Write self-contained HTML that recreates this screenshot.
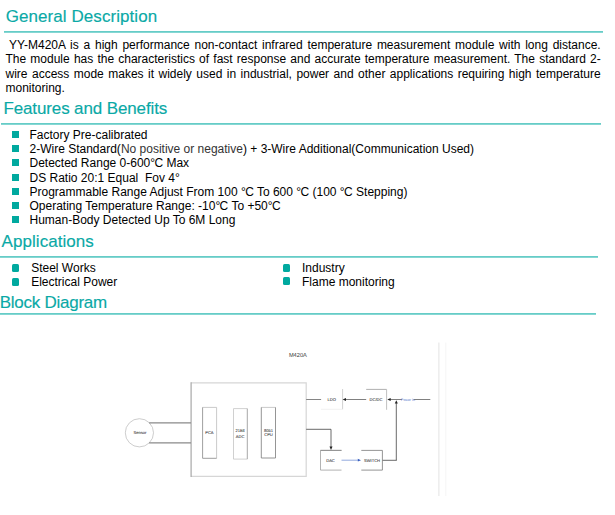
<!DOCTYPE html>
<html><head><meta charset="utf-8">
<style>
html,body{margin:0;padding:0;width:615px;height:515px;overflow:hidden;background:#fff;}
body{position:relative;font-family:"Liberation Sans",sans-serif;color:#000;}
.h{position:absolute;font-size:17px;line-height:20px;color:#0aa9a6;white-space:nowrap;-webkit-text-stroke:0.15px #0aa9a6;}
.r{position:absolute;height:0;border-top:1px solid #66ccc7;border-bottom:1px solid #86d7d3;}
.t{position:absolute;font-size:12px;line-height:14px;white-space:nowrap;}
.j{position:absolute;font-size:12px;line-height:14px;text-align:justify;text-align-last:justify;white-space:normal;}
.b{position:absolute;width:7px;height:7px;background:#00a99f;}
.rb{position:absolute;width:7px;height:8px;background:#00a99f;border-radius:1.5px;}
.g{color:#333;}
.dg{letter-spacing:-0.6px;}
</style></head><body>

<div class="h" style="left:5.8px;top:7px;letter-spacing:0.06px;">General Description</div>
<div class="r" style="left:4px;top:31px;width:599px;"></div>

<div class="j" style="left:5.5px;top:38px;width:595.2px;text-indent:3.6px;">YY-M420A is a high performance non-contact infrared temperature measurement module with long distance.</div>
<div class="j" style="left:5.5px;top:52px;width:595.2px;">The module has the characteristics of fast response and accurate temperature measurement. The standard 2-</div>
<div class="j" style="left:5.5px;top:66.5px;width:595.2px;">wire access mode makes it widely used in industrial, power and other applications requiring high temperature</div>
<div class="t" style="left:5.5px;top:81px;">monitoring.</div>

<div class="h" style="left:3.4px;top:99px;letter-spacing:-0.12px;">Features and Benefits</div>
<div class="r" style="left:1px;top:123px;width:600px;"></div>

<div class="b" style="left:12px;top:131px;"></div>
<div class="t" style="left:29.5px;top:127.5px;">Factory Pre-calibrated</div>
<div class="b" style="left:12px;top:145px;"></div>
<div class="t" style="left:29.5px;top:141.5px;">2-Wire Standard(<span class="g">No positive or negative</span>) + 3-Wire Additional(Communication Used)</div>
<div class="b" style="left:12px;top:159px;"></div>
<div class="t" style="left:29.5px;top:155.5px;">Detected Range 0-600<span class="dg">°</span>C Max</div>
<div class="b" style="left:12px;top:174px;"></div>
<div class="t" style="left:29.5px;top:170.5px;">DS Ratio 20:1 Equal&nbsp; Fov 4°</div>
<div class="b" style="left:12px;top:188px;"></div>
<div class="t" style="left:29.5px;top:184.5px;">Programmable Range Adjust From 100 <span class="dg">°</span>C To 600 <span class="dg">°</span>C (100 <span class="dg">°</span>C Stepping)</div>
<div class="b" style="left:12px;top:202px;"></div>
<div class="t" style="left:29.5px;top:198.5px;">Operating Temperature Range: -10<span class="dg">°</span>C To +50<span class="dg">°</span>C</div>
<div class="b" style="left:12px;top:216px;"></div>
<div class="t" style="left:29.5px;top:213px;">Human-Body Detected Up To 6M Long</div>

<div class="h" style="left:1.6px;top:232px;letter-spacing:0.05px;">Applications</div>
<div class="r" style="left:0px;top:256px;width:598px;"></div>

<div class="rb" style="left:12px;top:263.5px;"></div>
<div class="t" style="left:31.2px;top:260.5px;">Steel Works</div>
<div class="rb" style="left:12px;top:278px;"></div>
<div class="t" style="left:31.2px;top:274.5px;">Electrical Power</div>
<div class="rb" style="left:282.5px;top:264px;"></div>
<div class="t" style="left:302px;top:260.5px;">Industry</div>
<div class="rb" style="left:282.5px;top:277px;"></div>
<div class="t" style="left:302px;top:274.5px;">Flame monitoring</div>

<div class="h" style="left:-0.3px;top:293px;letter-spacing:-0.25px;">Block Diagram</div>
<div class="r" style="left:0px;top:313px;width:596px;"></div>

<svg style="position:absolute;left:0;top:0;" width="615" height="515" viewBox="0 0 615 515" font-family="Liberation Sans, sans-serif">
  <g fill="none">
  <!-- big box -->
  <path d="M191.1 382.9 H306.2 V476.3 H191.1" stroke="#d6d6d6" stroke-width="1.2"/>
  <line x1="191.1" y1="382.3" x2="191.1" y2="476.9" stroke="#a8a8a8" stroke-width="1.2"/>
  <!-- PCA box -->
  <path d="M202.6 407.4 H216.6 V458.3" stroke="#bbb" stroke-width="0.8"/>
  <path d="M202.6 407.4 V458.3 H216.6" stroke="#858585" stroke-width="0.8"/>
  <!-- ADC box -->
  <path d="M247.3 408.6 H233.5 V459.1 H247.3" stroke="#c4c4c4" stroke-width="0.8"/>
  <line x1="247.3" y1="408.6" x2="247.3" y2="459.1" stroke="#909090" stroke-width="0.8"/>
  <!-- CPU box -->
  <line x1="261.3" y1="407.4" x2="275.5" y2="407.4" stroke="#bbb" stroke-width="0.8"/>
  <path d="M261.3 407.4 V458 H275.5 V407.4" stroke="#7a7a7a" stroke-width="0.8"/>
  <!-- sensor -->
  <circle cx="139.4" cy="432.8" r="14.1" stroke="#b8b8b8" stroke-width="0.7"/>
  <line x1="149.1" y1="422.9" x2="191" y2="422.9" stroke="#8a8a8a" stroke-width="1.3"/>
  <line x1="149.1" y1="442.8" x2="191" y2="442.8" stroke="#8a8a8a" stroke-width="1.3"/>
  <!-- LDO -->
  <line x1="306.2" y1="399.5" x2="321.1" y2="399.5" stroke="#666" stroke-width="0.8"/>
  <line x1="342.6" y1="389" x2="342.6" y2="409.3" stroke="#c4c4c4" stroke-width="0.8"/>
  <line x1="321" y1="409.3" x2="342.6" y2="409.3" stroke="#eee" stroke-width="0.8"/>
  <line x1="345" y1="399.5" x2="366.2" y2="399.5" stroke="#555" stroke-width="0.75"/>
  <!-- DC/DC -->
  <line x1="366.2" y1="389.4" x2="386.6" y2="389.4" stroke="#9a9a9a" stroke-width="0.8"/>
  <line x1="386.6" y1="389.4" x2="386.6" y2="409.8" stroke="#b0b0b0" stroke-width="0.8"/>
  <line x1="389.5" y1="399.5" x2="402" y2="399.5" stroke="#555" stroke-width="0.75"/>
  <line x1="413.5" y1="399.5" x2="430.3" y2="399.5" stroke="#555" stroke-width="0.75"/>
  <!-- vertical up -->
  <line x1="396.3" y1="460.3" x2="396.3" y2="403" stroke="#444" stroke-width="0.8"/>
  <line x1="382.4" y1="460.3" x2="396.7" y2="460.3" stroke="#444" stroke-width="0.8"/>
  <!-- DAC path -->
  <path d="M306.2 429.3 H331 V447" stroke="#444" stroke-width="0.8"/>
  <!-- DAC box -->
  <path d="M341.5 450.4 H320.5 V470.1 H341.5" stroke="#a0a0a0" stroke-width="0.8"/>
  <line x1="320.5" y1="450.4" x2="341.5" y2="450.4" stroke="#888" stroke-width="0.8"/>
  <line x1="341.5" y1="460.2" x2="358.5" y2="460.2" stroke="#4a70c8" stroke-width="0.6"/>
  <!-- SWITCH -->
  <path d="M361.3 450.4 H382.4 V470.1 H361.3" stroke="#7a7a7a" stroke-width="0.8"/>
  <!-- right faint line -->
  <line x1="438.9" y1="342.5" x2="438.9" y2="496" stroke="#e4e4e4" stroke-width="1"/>
  <line x1="445.8" y1="342.5" x2="445.8" y2="496" stroke="#f5f5f5" stroke-width="1"/>
  </g>
  <g stroke="none">
  <path d="M342.6 399.5 L346 398 L346 401 Z" fill="#222"/>
  <path d="M387.3 399.5 L390.7 398 L390.7 401 Z" fill="#222"/>
  <path d="M396.3 400.2 L394.8 403.6 L397.8 403.6 Z" fill="#222"/>
  <path d="M331 450 L329.5 446.6 L332.5 446.6 Z" fill="#222"/>
  <path d="M361 460.2 L357.8 458.8 L357.8 461.6 Z" fill="#3a60c0"/>
  </g>
  <g fill="#1a1a1a" stroke="#444" stroke-width="0.05" text-anchor="middle" font-size="4.1" text-rendering="geometricPrecision">
  <text x="139.9" y="434.2">Sensor</text>
  <text x="209.4" y="434.1">PCA</text>
  <text x="240.1" y="432.3">21Bit</text>
  <text x="240.1" y="437.7">ADC</text>
  <text x="268.5" y="431.7">8051</text>
  <text x="268.5" y="436.2">CPU</text>
  <text x="331.7" y="400.9">LDO</text>
  <text x="376" y="400.9">DC/DC</text>
  <text x="330.5" y="461.6">DAC</text>
  <text x="372" y="461.6">SWITCH</text>
  <text x="408" y="400.8" font-size="3.5" fill="#5577cc" stroke="none">Power In</text>
  <text x="297.9" y="357.1" font-size="5.8" fill="#3a3a3a" stroke="none" textLength="18" lengthAdjust="spacingAndGlyphs">M420A</text>
  </g>
</svg>
</body></html>
